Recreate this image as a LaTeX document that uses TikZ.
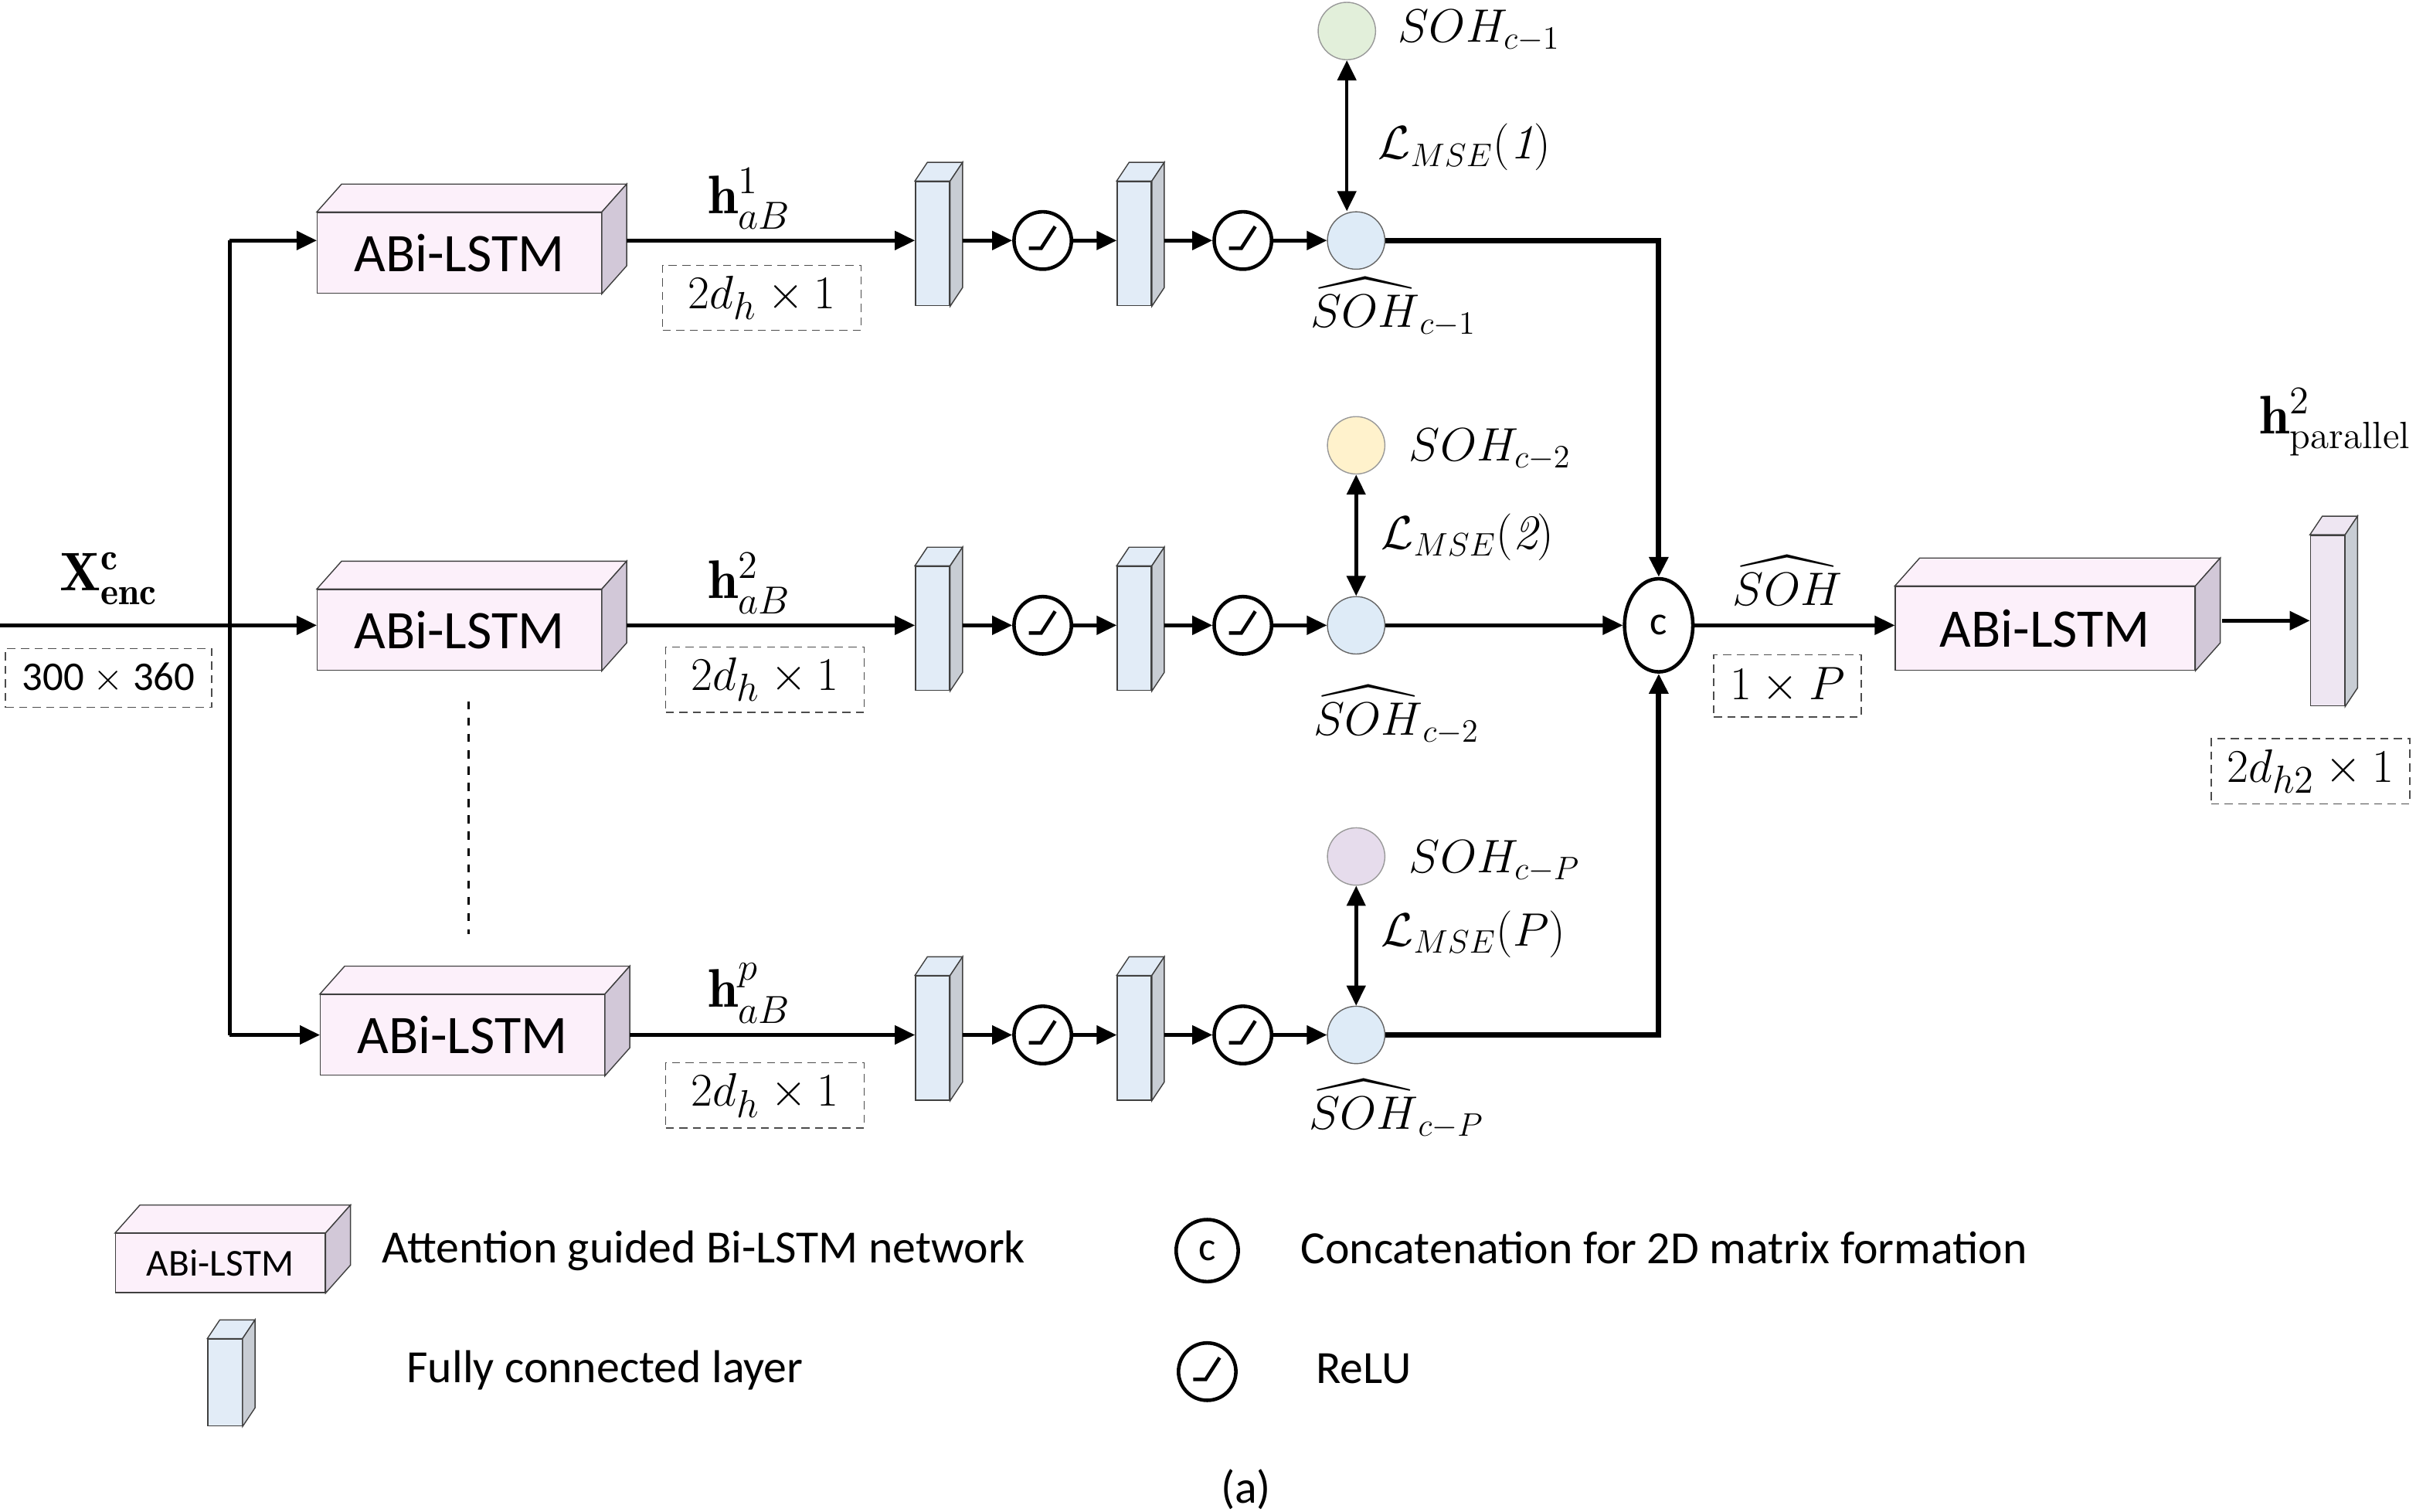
\documentclass[tikz,border=0pt]{standalone}
\usepackage{fontspec}
\usepackage{amsmath, amssymb}
\newfontfamily\carlito{Carlito}
\usepackage{tikz}
\usetikzlibrary{shapes, arrows.meta, positioning, calc}
\definecolor{abipink}{RGB}{252, 240, 250}
\definecolor{abiside}{RGB}{210, 200, 216}
\definecolor{fcblue}{RGB}{226, 236, 247}
\definecolor{fcside}{RGB}{200, 205, 212}
\definecolor{outblue}{RGB}{222, 235, 247}
\definecolor{socgreen}{RGB}{226, 239, 218}
\definecolor{socyellow}{RGB}{255, 242, 204}
\definecolor{socpurple}{RGB}{230, 220, 236}
\definecolor{lastfc}{RGB}{238, 230, 242}
\def\u{0.2008mm}

% 3D box: name, x, y, width, height, text, font
\newcommand{\abibox}[7]{
  \node[draw=black!75, fill=abipink, minimum width=#4*\u, minimum height=#5*\u, inner sep=0pt, font=#7] (#1) at (#2,#3) {#6};
  \draw[black!75, fill=abipink] (#1.north west) -- ++(16,-18) -- ($(#1.north east)+(16,-18)$) -- (#1.north east) -- cycle;
  \draw[black!75, fill=abiside] (#1.north east) -- ++(16,-18) -- ($(#1.south east)+(16,-18)$) -- (#1.south east) -- cycle;
}
% thin fully connected slab: name, x, y, height, front colour
\newcommand{\fcbox}[5]{
  \node[draw=black!75, fill=#5, minimum width=22*\u, minimum height=#4*\u, inner sep=0pt] (#1) at (#2,#3) {};
  \draw[black!75, fill=#5] (#1.north west) -- ++(8,-12) -- ($(#1.north east)+(8,-12)$) -- (#1.north east) -- cycle;
  \draw[black!75, fill=fcside] (#1.north east) -- ++(8,-12) -- ($(#1.south east)+(8,-12)$) -- (#1.south east) -- cycle;
}
% relu unit: name, x, y
\newcommand{\relu}[3]{
  \node[draw, line width=1.3pt, circle, minimum size=37*\u, inner sep=0pt] (#1) at (#2,#3) {};
  \draw[line width=1.3pt] ($(#1)+(-9,5)$) -- ($(#1)+(-1,5)$) -- ($(#1)+(8,-9)$);
}

\begin{document}
\begin{tikzpicture}[x=0.2008mm, y=-0.2008mm,
  arr/.style={line width=1.3pt, -{Triangle[length=2.6mm, width=2.4mm]}},
  dual/.style={line width=1.3pt, {Triangle[length=2.6mm, width=2.4mm]}-{Triangle[length=2.6mm, width=2.4mm]}},
  pipe/.style={line width=1.3pt},
  dimbox/.style={draw=black!70, densely dashed, thin, minimum width=128*\u, minimum height=42*\u, inner sep=0pt, font=\fontsize{19}{22}\selectfont},
  outc/.style={draw=black!60, fill=outblue, circle, minimum size=37*\u, inner sep=0pt},
  soc/.style={draw=black!40, circle, minimum size=37*\u, inner sep=0pt},
  lbl/.style={font=\fontsize{18}{22}\selectfont},
  hlbl/.style={font=\fontsize{20}{24}\selectfont},
  legtxt/.style={font=\carlito\fontsize{17}{20}\selectfont, anchor=west}]
  \useasboundingbox (0,0) rectangle (1568,974);

  % input
  \coordinate (in) at (0,403);
  \coordinate (split) at (148,403);
  \coordinate (top) at (148,155);
  \coordinate (bot) at (148,667);
  \node[hlbl] (xenc) at (70,373) {$\mathbf{X}^{\mathbf{c}}_{\mathbf{enc}}$};
  \node[dimbox, minimum width=133*\u, minimum height=38*\u, font=\carlito\fontsize{15}{18}\selectfont] (xdim) at (70,437) {300 $\times$ 360};

  % branches
  \abibox{abi1}{296}{163}{183}{52}{ABi-LSTM}{\carlito\fontsize{20}{24}\selectfont}
  \abibox{abi2}{296}{406}{183}{52}{ABi-LSTM}{\carlito\fontsize{20}{24}\selectfont}
  \abibox{abi3}{298}{667}{183}{52}{ABi-LSTM}{\carlito\fontsize{20}{24}\selectfont}
  \draw[pipe] (in) -- (split);
  \draw[pipe] (top) -- (bot);
  \draw[arr] (top) -- (abi1.west |- top);
  \draw[arr] (split) -- (abi2.west |- split);
  \draw[arr] (bot) -- (abi3.west |- bot);
  \draw[line width=1.1pt, dashed] (302,452) -- (302,602);

  \fcbox{fc11}{601}{157}{80}{fcblue}
  \fcbox{fc12}{731}{157}{80}{fcblue}
  \relu{r11}{672}{155}
  \relu{r12}{801}{155}
  \node[outc] (o1) at (874,155) {};
  \fcbox{fc21}{601}{405}{80}{fcblue}
  \fcbox{fc22}{731}{405}{80}{fcblue}
  \relu{r21}{672}{403}
  \relu{r22}{801}{403}
  \node[outc] (o2) at (874,403) {};
  \fcbox{fc31}{601}{669}{80}{fcblue}
  \fcbox{fc32}{731}{669}{80}{fcblue}
  \relu{r31}{672}{667}
  \relu{r32}{801}{667}
  \node[outc] (o3) at (874,667) {};

  \coordinate (a1) at (404,155);
  \coordinate (a2) at (404,403);
  \coordinate (a3) at (406,667);
  \draw[arr] (a1) -- (fc11.west |- a1);
  \draw[arr] (fc11.east |- r11) ++(8,0) -- (r11);
  \draw[arr] (r11) -- (fc12.west |- r11);
  \draw[arr] (fc12.east |- r12) ++(8,0) -- (r12);
  \draw[arr] (r12) -- (o1);
  \draw[arr] (a2) -- (fc21.west |- a2);
  \draw[arr] (fc21.east |- r21) ++(8,0) -- (r21);
  \draw[arr] (r21) -- (fc22.west |- r21);
  \draw[arr] (fc22.east |- r22) ++(8,0) -- (r22);
  \draw[arr] (r22) -- (o2);
  \draw[arr] (a3) -- (fc31.west |- a3);
  \draw[arr] (fc31.east |- r31) ++(8,0) -- (r31);
  \draw[arr] (r31) -- (fc32.west |- r31);
  \draw[arr] (fc32.east |- r32) ++(8,0) -- (r32);
  \draw[arr] (r32) -- (o3);

  \node[hlbl] (h1) at (483,128) {$\mathbf{h}^{1}_{aB}$};
  \node[hlbl] (h2) at (483,376) {$\mathbf{h}^{2}_{aB}$};
  \node[hlbl] (h3) at (483,640) {$\mathbf{h}^{p}_{aB}$};
  \node[dimbox] (d1) at (491,192) {$2d_h \times 1$};
  \node[dimbox] (d2) at (493,438) {$2d_h \times 1$};
  \node[dimbox] (d3) at (493,706) {$2d_h \times 1$};

  % targets and losses
  \node[soc, fill=socgreen] (s1) at (868,20) {};
  \node[soc, fill=socyellow] (s2) at (874,287) {};
  \node[soc, fill=socpurple] (s3) at (874,552) {};
  \node[lbl, anchor=west] (t1) at (895,20) {$SOH_{c-1}$};
  \node[lbl, anchor=west] (t2) at (902,290) {$SOH_{c-2}$};
  \node[lbl, anchor=west] (t3) at (902,555) {$SOH_{c-P}$};
  \draw[dual] (s1) -- (s1 |- o1.north);
  \draw[dual] (s2) -- (o2);
  \draw[dual] (s3) -- (o3);
  \node[lbl, anchor=west] (m1) at (882,95) {$\mathcal{L}_{MSE}(\mathit{1})$};
  \node[lbl, anchor=west] (m2) at (884,346) {$\mathcal{L}_{MSE}(\mathit{2})$};
  \node[lbl, anchor=west] (m3) at (884,602) {$\mathcal{L}_{MSE}(P)$};
  \node[lbl] (e1) at (898,198) {$\widehat{SOH}_{c-1}$};
  \node[lbl] (e2) at (900,461) {$\widehat{SOH}_{c-2}$};
  \node[lbl] (e3) at (900,715) {$\widehat{SOH}_{c-P}$};

  % concatenation
  \node[draw, line width=1.3pt, ellipse, minimum width=44*\u, minimum height=60*\u, inner sep=0pt, font=\carlito\fontsize{15}{18}\selectfont] (cat) at (1069,403) {c};
  \draw[arr, line width=2pt] (o1) -| (cat);
  \draw[arr] (o2) -- (cat);
  \draw[arr, line width=2pt] (o3) -| (cat);

  \abibox{abi4}{1318}{405}{193}{54}{ABi-LSTM}{\carlito\fontsize{20}{24}\selectfont}
  \draw[arr] (cat) -- (abi4.west |- cat);
  \node[lbl] (sh) at (1152,374) {$\widehat{SOH}$};
  \node[dimbox, minimum width=95*\u, minimum height=40*\u] (pdim) at (1152,442) {$1 \times P$};
  \fcbox{fc4}{1500}{400}{110}{lastfc}
  \coordinate (a4) at (1432,400);
  \draw[arr] (a4) -- (fc4.west |- a4);
  \node[hlbl, anchor=west] (hp) at (1450,272) {$\mathbf{h}^{2}_{\mathrm{parallel}}$};
  \node[dimbox] (d4) at (1489,497) {$2d_{h2} \times 1$};

  % legend
  \abibox{lg1}{142}{814}{135}{38}{ABi-LSTM}{\carlito\fontsize{14}{17}\selectfont}
  \node[legtxt] (lt1) at (240,806) {Attention guided Bi-LSTM network};
  \fcbox{lg2}{145}{891}{56}{fcblue}
  \node[legtxt] (lt2) at (256,883) {Fully connected layer};
  \node[draw, line width=1.3pt, circle, minimum size=40*\u, inner sep=0pt, font=\carlito\fontsize{15}{18}\selectfont] (lg3) at (778,806) {c};
  \node[legtxt] (lt3) at (832,804) {Concatenation for 2D matrix formation};
  \relu{lg4}{778}{884}
  \node[legtxt] (lt4) at (842,882) {ReLU};
  \node[font=\carlito\fontsize{17}{20}\selectfont] (cap) at (803,960) {(a)};
\end{tikzpicture}
\end{document}
